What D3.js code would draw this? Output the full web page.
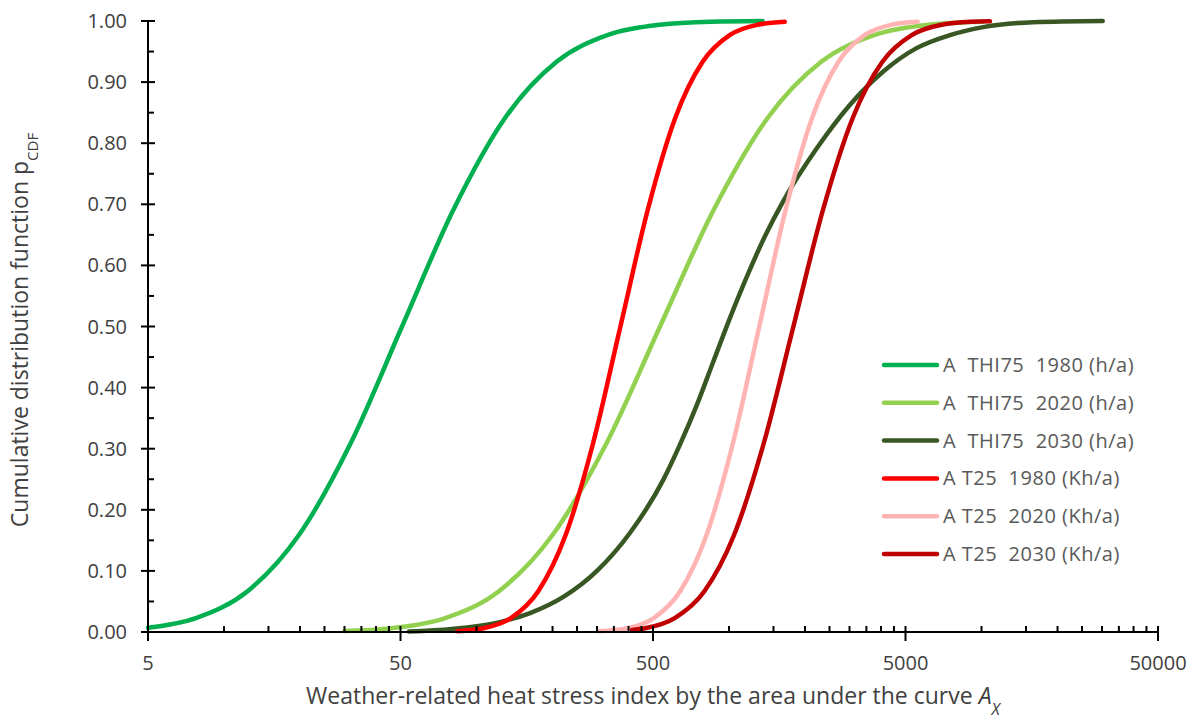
<!DOCTYPE html>
<html>
<head>
<meta charset="utf-8">
<script src="https://cdn.jsdelivr.net/npm/d3@7"></script>
<style>
  body { margin: 0; background: #ffffff; }
  text { font-family: "Open Sans", "Noto Sans", sans-serif; }
</style>
</head>
<body>
<svg id="chart" width="1195" height="720"></svg>
<script>
// Axis ticks
const xTickValues = [5, 50, 500, 5000, 50000];
const yTickValues = [0, 0.1, 0.2, 0.3, 0.4, 0.5, 0.6, 0.7, 0.8, 0.9, 1.0];

// Series labels and colours
const seriesNames = [
  "A  THI75  1980 (h/a)",
  "A  THI75  2020 (h/a)",
  "A  THI75  2030 (h/a)",
  "A T25  1980 (Kh/a)",
  "A T25  2020 (Kh/a)",
  "A T25  2030 (Kh/a)"
];
const seriesColors = ["#00b050", "#92d050", "#385723", "#ff0000", "#ffb3b3", "#c00000"];

// Cumulative distributions: [index value A_X, p_CDF]
const thi75_1980 = [
  [5, 0.007], [7.74, 0.0228], [12.4, 0.0668], [19.8, 0.1587], [31.7, 0.3085], [50.7, 0.5],
  [81.1, 0.6915], [129.7, 0.8413], [207.5, 0.9332], [331.9, 0.9772], [531, 0.9938],
  [849, 0.9987], [1358, 0.9998]
];
const thi75_2020 = [
  [30, 0.0016], [46, 0.0062], [75.2, 0.0228], [122.7, 0.0668], [200, 0.1587], [326.8, 0.3085],
  [533, 0.5], [871, 0.6915], [1422, 0.8413], [2319, 0.9332], [3784, 0.9772], [6180, 0.9938],
  [10090, 0.9987]
];
const thi75_2030 = [
  [54, 0.001], [80, 0.005], [120, 0.015], [163, 0.031], [220, 0.057], [300, 0.1],
  [405, 0.162], [549, 0.249], [640, 0.307], [748, 0.373], [864, 0.441], [1009, 0.514],
  [1178, 0.582], [1389, 0.648], [1634, 0.704], [2230, 0.792], [3015, 0.863], [4072, 0.917],
  [5555, 0.956], [7510, 0.977], [10150, 0.99], [16000, 0.998], [30200, 1.0]
];
const t25_1980 = [
  [84, 0.0014], [106.5, 0.0062], [136.8, 0.0228], [175.6, 0.0668], [225.4, 0.1587], [289.4, 0.3085],
  [371.5, 0.5], [477, 0.6915], [612.4, 0.8413], [786.3, 0.9332], [1009, 0.9772], [1296, 0.9938],
  [1663, 0.9987]
];
const t25_2020 = [
  [303, 0.0011], [395.9, 0.0062], [503.5, 0.0228], [640.5, 0.0668], [814.7, 0.1587], [1036, 0.3085],
  [1318, 0.5], [1677, 0.6915], [2133, 0.8413], [2714, 0.9332], [3451, 0.9772], [4390, 0.9938],
  [5585, 0.9987]
];
const t25_2030 = [
  [413, 0.0033], [465, 0.0062], [609.5, 0.0228], [799, 0.0668], [1047, 0.1587], [1372, 0.3085],
  [1799, 0.5], [2358, 0.6915], [3090, 0.8413], [4051, 0.9332], [5309, 0.9772], [6959, 0.9938],
  [9120, 0.9987], [10800, 0.9995]
];
const seriesData = [thi75_1980, thi75_2020, thi75_2030, t25_1980, t25_2020, t25_2030];

// Layout
const margin = { left: 148, right: 37, top: 21, bottom: 88 };
const W = 1195, H = 720;
const svg = d3.select("#chart");

const x = d3.scaleLog().domain([5, 50000]).range([margin.left, W - margin.right]);
const y = d3.scaleLinear().domain([0, 1]).range([H - margin.bottom, margin.top]);

const textColor = "#404040";
const nbsp = s => s.replace(/ /g, "\u00a0");

// Curves
const line = d3.line()
  .x(d => x(d[0]))
  .y(d => y(d[1]))
  .curve(d3.curveMonotoneX);

svg.append("g")
  .selectAll("path")
  .data(seriesData)
  .join("path")
  .attr("d", line)
  .attr("fill", "none")
  .attr("stroke", (d, i) => seriesColors[i])
  .attr("stroke-width", 4.5)
  .attr("stroke-linecap", "round")
  .attr("stroke-linejoin", "round");

// Y axis: major ticks cross the line, minor ticks point inward
const yAxis = svg.append("g");
yAxis.append("line")
  .attr("x1", x(5)).attr("x2", x(5))
  .attr("y1", y(0)).attr("y2", y(1))
  .attr("stroke", "#000").attr("stroke-width", 2);
yAxis.selectAll(".ymaj")
  .data(yTickValues)
  .join("line")
  .attr("x1", x(5) - 7).attr("x2", x(5) + 7)
  .attr("y1", d => y(d)).attr("y2", d => y(d))
  .attr("stroke", "#000").attr("stroke-width", 2);
yAxis.selectAll(".ymin")
  .data(d3.range(0.05, 1, 0.1))
  .join("line")
  .attr("x1", x(5)).attr("x2", x(5) + 6)
  .attr("y1", d => y(d)).attr("y2", d => y(d))
  .attr("stroke", "#000").attr("stroke-width", 2);
yAxis.selectAll("text")
  .data(yTickValues)
  .join("text")
  .attr("x", x(5) - 21)
  .attr("y", d => y(d) + 7)
  .attr("text-anchor", "end")
  .attr("font-size", 20)
  .attr("fill", textColor)
  .text(d => d3.format(".2f")(d));

// X axis (log scale): decades at 5·10^k, minor ticks at m·5·10^k
const xAxis = svg.append("g");
xAxis.append("line")
  .attr("x1", x(5)).attr("x2", x(50000))
  .attr("y1", y(0)).attr("y2", y(0))
  .attr("stroke", "#000").attr("stroke-width", 2);
const xMinor = [];
xTickValues.slice(0, -1).forEach(b => d3.range(2, 10).forEach(m => xMinor.push(b * m)));
xAxis.selectAll(".xmin")
  .data(xMinor)
  .join("line")
  .attr("x1", d => x(d)).attr("x2", d => x(d))
  .attr("y1", y(0) - 6).attr("y2", y(0))
  .attr("stroke", "#000").attr("stroke-width", 2);
xAxis.selectAll(".xmaj")
  .data(xTickValues)
  .join("line")
  .attr("x1", d => x(d)).attr("x2", d => x(d))
  .attr("y1", y(0) - 6).attr("y2", y(0) + 9)
  .attr("stroke", "#000").attr("stroke-width", 2);
xAxis.selectAll("text")
  .data(xTickValues)
  .join("text")
  .attr("x", d => x(d))
  .attr("y", y(0) + 38)
  .attr("text-anchor", "middle")
  .attr("font-size", 20)
  .attr("fill", textColor)
  .text(d => String(d));

// Axis titles
const xTitle = svg.append("text")
  .attr("x", 653).attr("y", 704)
  .attr("text-anchor", "middle")
  .attr("font-size", 23)
  .attr("fill", textColor);
xTitle.append("tspan").text("Weather-related heat stress index by the area under the curve ");
xTitle.append("tspan").attr("font-style", "italic").text("A");
xTitle.append("tspan").attr("font-style", "italic").attr("font-size", 16)
  .attr("baseline-shift", "sub").text("X");

const yTitle = svg.append("text")
  .attr("transform", "translate(28,330) rotate(-90)")
  .attr("text-anchor", "middle")
  .attr("font-size", 23)
  .attr("fill", textColor);
yTitle.append("tspan").text("Cumulative distribution function p");
yTitle.append("tspan").attr("font-size", 15).attr("baseline-shift", "sub").text("CDF");

// Legend
const legend = svg.append("g");
const legendRows = legend.selectAll("g")
  .data(seriesNames)
  .join("g")
  .attr("transform", (d, i) => `translate(884, ${365 + i * 37.8})`);
legendRows.append("line")
  .attr("x1", 0).attr("x2", 53)
  .attr("y1", 0).attr("y2", 0)
  .attr("stroke", (d, i) => seriesColors[i])
  .attr("stroke-width", 4.5)
  .attr("stroke-linecap", "round");
legendRows.append("text")
  .attr("x", 59).attr("y", 7)
  .attr("font-size", 20)
  .attr("letter-spacing", 0.5)
  .attr("fill", "#595959")
  .text(d => nbsp(d));
</script>
</body>
</html>
